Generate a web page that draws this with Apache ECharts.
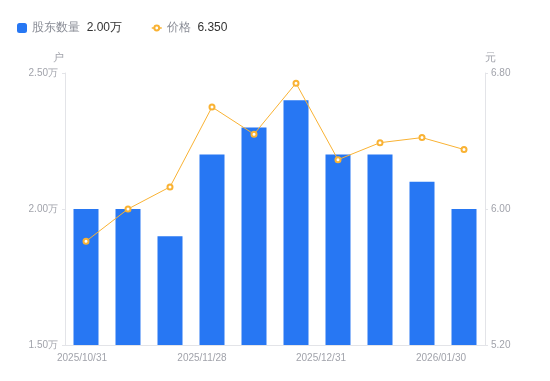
<!DOCTYPE html>
<html><head><meta charset="utf-8">
<script src="https://cdn.jsdelivr.net/npm/echarts@6/dist/echarts.min.js"></script>
<style>html,body{margin:0;padding:0;background:#fff}#c{width:550px;height:381px}</style>
</head><body><div id="c"></div>
<script>
const categories = ['2025/10/31','2025/11/10','2025/11/20','2025/11/28','2025/12/10','2025/12/19','2025/12/31','2026/01/09','2026/01/20','2026/01/30'];
const holders = [2.00, 2.00, 1.90, 2.20, 2.30, 2.40, 2.20, 2.20, 2.10, 2.00]; // 万户
const prices = [5.81, 6.00, 6.13, 6.60, 6.44, 6.74, 6.29, 6.39, 6.42, 6.35];
const leftTicks = {min: 1.5, max: 2.5, interval: 0.5};
const rightTicks = {min: 5.2, max: 6.8, interval: 0.8};

const gray = '#a1a3ab';
const chart = echarts.init(document.getElementById('c'));
const labelShift = {0: 'a', 3: 'b', 6: 'c', 9: 'd'};
const legendText = {rich: {n: {color: '#8a8d96', fontSize: 12}, v: {color: '#333', fontSize: 12}}};
chart.setOption({
  animation: false,
  legend: [{
    data: ['股东数量'],
    left: 12, top: 17, itemWidth: 10, itemHeight: 10,
    formatter: name => '{n|' + name + '}  {v|' + holders[holders.length-1].toFixed(2) + '万}',
    textStyle: legendText
  }, {
    data: ['价格'],
    left: 146, top: 17, itemWidth: 10, itemHeight: 6,
    formatter: name => '{n|' + name + '}  {v|' + prices[prices.length-1].toFixed(3) + '}',
    textStyle: legendText,
    lineStyle: {width: 1.5}
  }],
  grid: {left: 65, right: 65, top: 73, bottom: 36},
  xAxis: {
    type: 'category', data: categories,
    axisLine: {lineStyle: {color: '#e3e4e8'}},
    axisTick: {show: false},
    axisLabel: {
      interval: 2, margin: 8, color: gray, fontSize: 10,
      formatter: function (v, i) { return '{' + (labelShift[i] || 'a') + '|' + v + '}'; },
      rich: {a: {padding: [0, 8, 0, 0]}, b: {padding: [0, 20, 0, 0]}, c: {padding: [0, 34, 0, 0]}, d: {padding: [0, 46, 0, 0]}}
    }
  },
  yAxis: [{
    type: 'value', min: leftTicks.min, max: leftTicks.max, interval: leftTicks.interval,
    name: '户', nameGap: 10, nameTextStyle: {color: gray, fontSize: 11, padding: [0, 13, 0, 0]},
    axisLine: {show: true, lineStyle: {color: '#e3e4e8'}},
    axisTick: {show: true, length: 3, lineStyle: {color: '#e3e4e8'}},
    splitLine: {show: false},
    axisLabel: {color: gray, fontSize: 10, margin: 7, formatter: v => v.toFixed(2) + '万'}
  }, {
    type: 'value', min: rightTicks.min, max: rightTicks.max, interval: rightTicks.interval,
    name: '元', nameGap: 10, nameTextStyle: {color: gray, fontSize: 11, padding: [0, 0, 0, 11]},
    axisLine: {show: true, lineStyle: {color: '#e3e4e8'}},
    axisTick: {show: true, length: 3, lineStyle: {color: '#e3e4e8'}},
    splitLine: {show: false},
    axisLabel: {color: gray, fontSize: 10, margin: 6, formatter: v => v.toFixed(2)}
  }],
  series: [{
    name: '股东数量', type: 'bar', data: holders, barWidth: 25,
    itemStyle: {color: '#2777f3'}
  }, {
    name: '价格', type: 'line', yAxisIndex: 1, data: prices,
    symbol: 'emptyCircle', symbolSize: 5,
    lineStyle: {color: '#f9b233', width: 1},
    itemStyle: {color: '#f9b233', borderWidth: 2}
  }]
});
</script></body></html>
